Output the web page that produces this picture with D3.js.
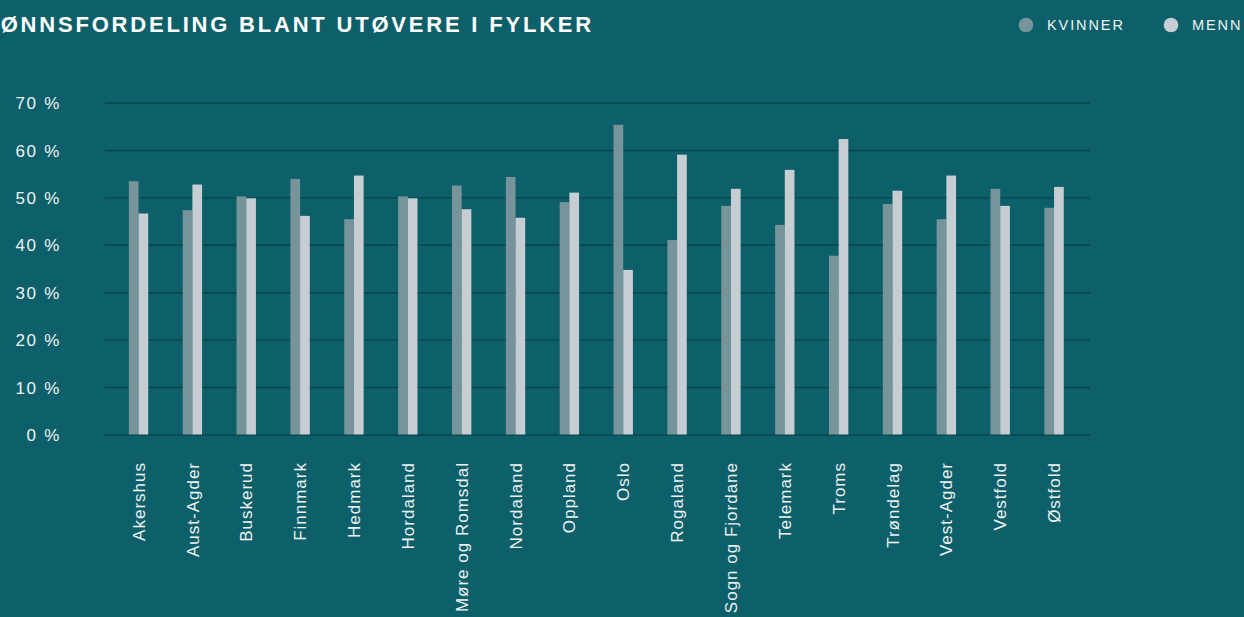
<!DOCTYPE html>
<html><head><meta charset="utf-8">
<script src="https://cdn.jsdelivr.net/npm/d3@7"></script>
<style>
html,body{margin:0;padding:0;background:#0d5f69;overflow:hidden}
svg{display:block}
</style></head>
<body>
<svg id="chart" width="1244" height="617"></svg>
<script>
const categories = ["Akershus","Aust-Agder","Buskerud","Finnmark","Hedmark","Hordaland","Møre og Romsdal","Nordaland","Oppland","Oslo","Rogaland","Sogn og Fjordane","Telemark","Troms","Trøndelag","Vest-Agder","Vestfold","Østfold"];
const kvinner = [53.4,47.3,50.2,53.9,45.4,50.2,52.5,54.3,49.0,65.3,41.0,48.2,44.2,37.7,48.6,45.4,51.8,47.8];
const menn    = [46.6,52.7,49.8,46.1,54.6,49.8,47.5,45.7,51.0,34.7,59.0,51.8,55.8,62.3,51.4,54.6,48.2,52.2];
const seriesNames = ["KVINNER","MENN"];
const yTicks = [0,10,20,30,40,50,60,70];
const title = "KJØNNSFORDELING BLANT UTØVERE I FYLKER";

const colors = {bg:"#0d5f69", k:"#77949b", m:"#c6cdd3", grid:"#07444d", text:"#eef3f4"};
const font = "'Liberation Sans', Arial, sans-serif";

const svg = d3.select("#chart");
svg.append("rect").attr("width",1244).attr("height",617).attr("fill",colors.bg);

const y = d3.scaleLinear().domain([0,70]).range([434.5,102.5]);
const x = d3.scaleBand().domain(categories).range([111.6,1081]).paddingInner(0.64).paddingOuter(0.32);
const xs = d3.scaleBand().domain(seriesNames).range([0, x.bandwidth()]);

// grid
const gridG = svg.append("g").attr("transform","translate(105,0)")
  .call(d3.axisLeft(y).tickValues(yTicks).tickSize(-985).tickFormat(""));
gridG.select(".domain").remove();
gridG.selectAll(".tick line").attr("stroke",colors.grid).attr("stroke-width",1.4);

// y labels
const yLab = svg.append("g").attr("transform","translate(61,0)")
  .call(d3.axisLeft(y).tickValues(yTicks).tickSize(0).tickPadding(0).tickFormat(d=>d+" %"));
yLab.select(".domain").remove();
yLab.selectAll("text").attr("fill",colors.text).style("font-family",font)
  .style("font-size","17px").style("letter-spacing","1.7px").attr("dy","0.36em");

// bars
const rows = categories.map((c,i)=>({c, vals:[{s:"KVINNER",v:kvinner[i]},{s:"MENN",v:menn[i]}]}));
const g = svg.append("g");
g.selectAll("g.cat").data(rows).join("g").attr("class","cat")
  .attr("transform",d=>`translate(${x(d.c)},0)`)
  .selectAll("rect").data(d=>d.vals).join("rect")
  .attr("x",d=>xs(d.s)).attr("width",xs.bandwidth())
  .attr("y",d=>y(d.v)).attr("height",d=>y(0)-y(d.v))
  .attr("fill",d=>d.s==="KVINNER"?colors.k:colors.m);

// x labels
const xAx = svg.append("g").attr("transform","translate(0,462)")
  .call(d3.axisBottom(x).tickSize(0).tickPadding(0));
xAx.select(".domain").remove();
xAx.selectAll("text").attr("fill",colors.text).style("font-family",font)
  .style("font-size","17px").style("letter-spacing","1px")
  .attr("text-anchor","end").attr("transform","rotate(-90)")
  .attr("x",0).attr("y",0).attr("dy","0.36em");

// title
const t = svg.append("text").text(title).attr("y",32).attr("fill","#ffffff")
  .style("font-family",font).style("font-weight","bold").style("font-size","22px")
  .style("letter-spacing","2.8px");
const tw = t.node().getComputedTextLength();
t.attr("x", 594 - tw);

// legend
const leg = svg.append("g");
const legX = [1026, 1171];
seriesNames.forEach((s,i)=>{
  leg.append("circle").attr("cx",legX[i]).attr("cy",25).attr("r",7.3).attr("fill",i===0?colors.k:colors.m);
  leg.append("text").text(s).attr("x",legX[i]+21).attr("y",25).attr("dy","0.36em")
    .attr("fill",colors.text).style("font-family",font).style("font-size","14.5px").style("letter-spacing","1.9px");
});
</script>
</body></html>
